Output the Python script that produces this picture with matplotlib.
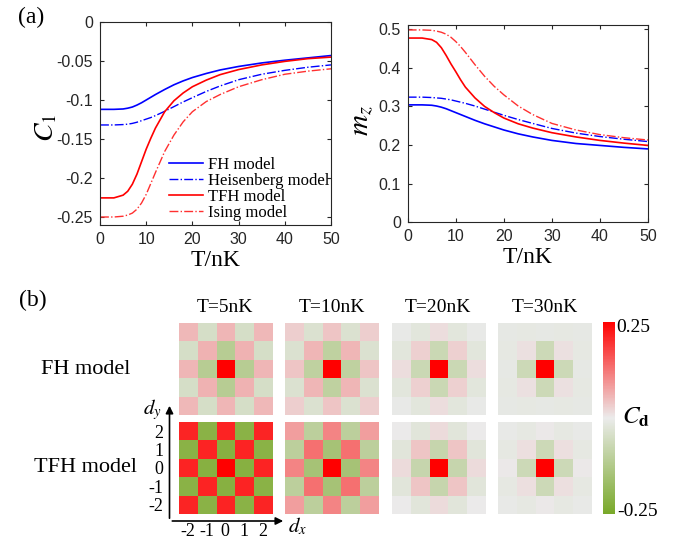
import numpy as np
import matplotlib.pyplot as plt
from matplotlib.colors import LinearSegmentedColormap
from matplotlib.patches import FancyArrowPatch

plt.rcParams['mathtext.fontset'] = 'stix'
plt.rcParams['font.family'] = 'Liberation Serif'

# ---- (a) curves, T in nK ----
T = [0, 3, 5, 6, 7, 8, 9, 10, 11, 12, 14, 16, 18, 20, 23, 26, 30, 35, 40, 45, 50]

c1_fh = [-0.112, -0.112, -0.1115, -0.1105, -0.109, -0.1065, -0.1035, -0.100, -0.0965, -0.093,
         -0.0865, -0.0805, -0.0755, -0.0712, -0.066, -0.0615, -0.057, -0.0525, -0.049, -0.046, -0.043]
c1_heis = [-0.132, -0.132, -0.1315, -0.131, -0.130, -0.1285, -0.1265, -0.1245, -0.1225, -0.120,
           -0.1145, -0.1085, -0.1025, -0.097, -0.089, -0.082, -0.074, -0.067, -0.062, -0.058, -0.055]
c1_tfh = [-0.2255, -0.2255, -0.222, -0.217, -0.208, -0.195, -0.179, -0.163, -0.149, -0.136,
          -0.115, -0.101, -0.091, -0.083, -0.0745, -0.0675, -0.061, -0.055, -0.0505, -0.047, -0.045]
c1_ising = [-0.250, -0.250, -0.249, -0.2475, -0.245, -0.240, -0.232, -0.221, -0.207, -0.193,
            -0.166, -0.145, -0.128, -0.115, -0.102, -0.093, -0.083, -0.074, -0.067, -0.063, -0.060]

mz_fh = [0.304, 0.304, 0.303, 0.301, 0.298, 0.294, 0.289, 0.284, 0.279, 0.274,
         0.264, 0.255, 0.247, 0.239, 0.229, 0.221, 0.212, 0.204, 0.199, 0.194, 0.190]
mz_heis = [0.324, 0.324, 0.323, 0.322, 0.321, 0.319, 0.317, 0.314, 0.311, 0.308,
           0.301, 0.293, 0.285, 0.277, 0.266, 0.256, 0.243, 0.231, 0.222, 0.215, 0.209]
mz_tfh = [0.477, 0.477, 0.473, 0.466, 0.452, 0.432, 0.410, 0.390, 0.369, 0.350,
          0.322, 0.300, 0.284, 0.270, 0.255, 0.244, 0.232, 0.221, 0.212, 0.205, 0.199]
mz_ising = [0.498, 0.498, 0.497, 0.495, 0.492, 0.487, 0.479, 0.468, 0.455, 0.440,
            0.408, 0.378, 0.352, 0.330, 0.301, 0.279, 0.256, 0.239, 0.227, 0.219, 0.213]

labels = ['FH model', 'Heisenberg model', 'TFH model', 'Ising model']

# ---- (b) correlation maps: values for |d| = (0,0),(1,0),(1,1),(2,0),(2,1),(2,2) ----
temps = ['T=5nK', 'T=10nK', 'T=20nK', 'T=30nK']
cd_fh = [[0.25, -0.112, 0.060, 0.056, -0.046, 0.054],
         [0.25, -0.095, 0.055, 0.040, -0.035, 0.030],
         [0.25, -0.070, 0.028, 0.015, -0.018, -0.004],
         [0.25, -0.065, 0.010, -0.008, -0.010, -0.008]]
cd_tfh = [[0.25, -0.215, 0.212, 0.212, -0.210, 0.210],
          [0.25, -0.150, 0.130, 0.108, -0.100, 0.082],
          [0.25, -0.080, 0.040, 0.017, -0.020, 0.000],
          [0.25, -0.065, 0.012, 0.003, -0.010, -0.004]]
d = [-2, -1, 0, 1, 2]

cmap = LinearSegmentedColormap.from_list('cd', ['#78a828', '#ebebeb', '#ff0000'])


def grid(v):
    idx = {(0, 0): 0, (1, 0): 1, (1, 1): 2, (2, 0): 3, (2, 1): 4, (2, 2): 5}
    g = np.zeros((5, 5))
    for i, dy in enumerate(d[::-1]):
        for j, dx in enumerate(d):
            a, b = sorted((abs(dx), abs(dy)), reverse=True)
            g[i, j] = v[idx[(a, b)]]
    return g


fig = plt.figure(figsize=(6.94, 5.41), dpi=100)
W, H = 694., 541.


def add_ax(l, t, r, b):
    return fig.add_axes([l / W, 1 - b / H, (r - l) / W, (b - t) / H])


def fp(x, y):
    return (x / W, 1 - y / H)


sans = 'Liberation Sans'
dark = '#262626'


def style(ax):
    ax.tick_params(direction='in', length=3, top=True, right=True, colors=dark,
                   labelsize=11.5, pad=5)
    for s in ax.spines.values():
        s.set_color(dark)
        s.set_linewidth(0.8)


# top-left: C1
ax1 = add_ax(100, 22, 331, 224.8)
ax1.plot(T, c1_fh, '-', color='#0000ff', lw=1.2, label=labels[0])
ax1.plot(T, c1_heis, '-.', color='#0000ff', lw=1.0, label=labels[1])
ax1.plot(T, c1_tfh, '-', color='#ff0000', lw=1.2, label=labels[2])
ax1.plot(T, c1_ising, '-.', color='#ff3030', lw=1.0, label=labels[3])
ax1.set_xlim(0, 50)
ax1.set_ylim(-0.26, 0)
ax1.set_xticks([0, 10, 20, 30, 40, 50], ['0', '10', '20', '30', '40', '50'], fontfamily=sans)
ax1.set_yticks([0, -0.05, -0.1, -0.15, -0.2, -0.25],
               ['0', '-0.05', '-0.1', '-0.15', '-0.2', '-0.25'], fontfamily=sans)
style(ax1)
ax1.set_xlabel('T/nK', fontsize=17, labelpad=2)
ax1.set_ylabel('$C_1$', fontsize=20)
ax1.yaxis.set_label_coords(-0.175, 0.48)
ax1.legend(loc='lower left', bbox_to_anchor=(0.30, 0.02), frameon=False, fontsize=12,
           labelspacing=0.0, handlelength=2.0, handletextpad=0.3, borderpad=0, borderaxespad=0)

# top-right: mz
ax2 = add_ax(407.7, 25.3, 648, 222.3)
ax2.plot(T, mz_fh, '-', color='#0000ff', lw=1.2)
ax2.plot(T, mz_heis, '-.', color='#0000ff', lw=1.0)
ax2.plot(T, mz_tfh, '-', color='#ff0000', lw=1.2)
ax2.plot(T, mz_ising, '-.', color='#ff3030', lw=1.0)
ax2.set_xlim(0, 50)
ax2.set_ylim(0, 0.51)
ax2.set_xticks([0, 10, 20, 30, 40, 50], ['0', '10', '20', '30', '40', '50'], fontfamily=sans)
ax2.set_yticks([0, 0.1, 0.2, 0.3, 0.4, 0.5], ['0', '0.1', '0.2', '0.3', '0.4', '0.5'],
               fontfamily=sans)
style(ax2)
ax2.set_xlabel('T/nK', fontsize=17, labelpad=2)
ax2.set_ylabel('$m_z$', fontsize=21)
ax2.yaxis.set_label_coords(-0.13, 0.514)

fig.text(*fp(31, 17), '(a)', fontsize=17, ha='center', va='center')
fig.text(*fp(33, 300), '(b)', fontsize=17, ha='center', va='center')

# heatmaps
lefts = [178.5, 285, 391.5, 498]
pw = 93.5
rows = [(322.5, 414.5), (422, 513.5)]
for k in range(4):
    for r, data in enumerate([cd_fh, cd_tfh]):
        t, b = rows[r]
        ax = add_ax(lefts[k], t, lefts[k] + pw, b)
        im = ax.imshow(grid(data[k]), cmap=cmap, vmin=-0.25, vmax=0.25,
                       extent=(-2.5, 2.5, -2.5, 2.5), aspect='auto', interpolation='nearest')
        for s in ax.spines.values():
            s.set_visible(False)
        if k == 0 and r == 1:
            ax.set_xticks(d, [str(v) for v in d])
            ax.set_yticks(d, [str(v) for v in d])
            ax.tick_params(length=0, labelsize=13)
            ax.tick_params(axis='x', pad=7)
            ax.tick_params(axis='y', pad=11)
        else:
            ax.set_xticks([])
            ax.set_yticks([])
    fig.text(*fp(lefts[k] + pw / 2, 308), temps[k], fontsize=14, ha='center', va='center')

fig.text(*fp(86, 370), 'FH model', fontsize=16, ha='center', va='center')
fig.text(*fp(86, 467), 'TFH model', fontsize=16, ha='center', va='center')

# d axes arrows
fig.add_artist(FancyArrowPatch(fp(169.5, 521), fp(169.5, 403), transform=fig.transFigure,
                               arrowstyle='-|>', mutation_scale=11, lw=1.2, color='k'))
fig.add_artist(FancyArrowPatch(fp(169.5, 521), fp(286, 521), transform=fig.transFigure,
                               arrowstyle='-|>', mutation_scale=11, lw=1.2, color='k'))
fig.text(*fp(152, 410), '$d_y$', fontsize=15, ha='center', va='center')
fig.text(*fp(297, 526), '$d_x$', fontsize=15, ha='center', va='center')

# colorbar
cax = add_ax(603, 321.7, 615, 514.3)
cb = fig.colorbar(im, cax=cax)
cb.outline.set_visible(False)
cax.set_yticks([])
fig.text(*fp(616, 327), '0.25', fontsize=14, ha='left', va='center')
fig.text(*fp(617, 511), '-0.25', fontsize=14, ha='left', va='center')
fig.text(*fp(622, 417), r'$C_{\mathbf{d}}$', fontsize=18, ha='left', va='center')

fig.savefig('out.png', dpi=100)
